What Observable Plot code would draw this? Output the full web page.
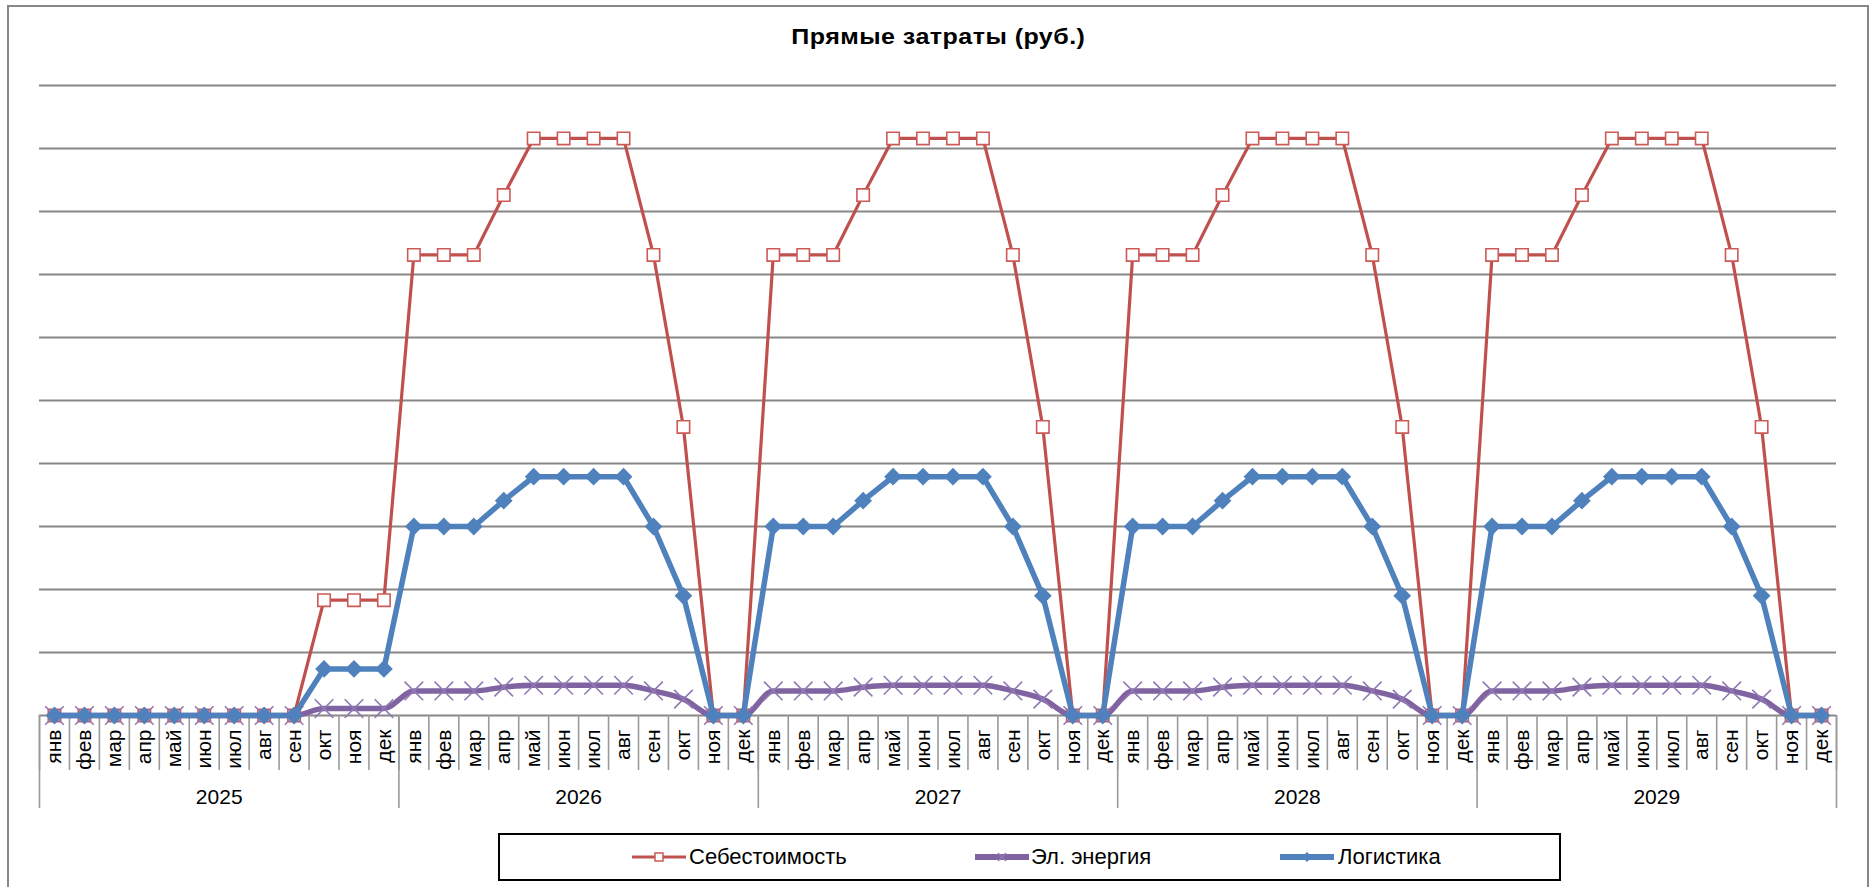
<!DOCTYPE html>
<html>
<head>
<meta charset="utf-8">
<script src="https://cdn.jsdelivr.net/npm/d3@7"></script>
<script src="https://cdn.jsdelivr.net/npm/@observablehq/plot@0.6"></script>
<style>
html, body { margin: 0; padding: 0; background: #fff; }
#wrap { position: relative; width: 1876px; height: 887px; overflow: hidden; font-family: "Liberation Sans", Arial, sans-serif; color: #000; }
#frame { position: absolute; left: 7px; top: 5px; width: 1858px; height: 940px; border: 2px solid #878787; }
#title { position: absolute; left: 0; top: 26px; width: 1876px; text-align: center; font-weight: bold; font-size: 21.5px; line-height: 22px; white-space: nowrap; }
#title span { display: inline-block; transform-origin: 50% 50%; }
#chart { position: absolute; left: 0; top: 60px; }
#legend { position: absolute; left: 498px; top: 833px; width: 1063px; height: 48px; box-sizing: border-box; border: 2px solid #000; }
.lg-sym { position: absolute; top: 847px; }
.lg-txt { position: absolute; top: 846px; font-size: 22px; line-height: 22px; white-space: nowrap; }
</style>
</head>
<body>
<div id="wrap">
  <div id="frame"></div>
  <div id="title"><span id="titleText"></span></div>
  <div id="chart"></div>
  <div id="legend"></div>
</div>
<script>
// ---- data ----
const months = ["янв","фев","мар","апр","май","июн","июл","авг","сен","окт","ноя","дек"];
const years = [2025, 2026, 2027, 2028, 2029];
const titleText = "Прямые затраты (руб.)";
const seriesNames = ["Себестоимость", "Эл. энергия", "Логистика"];
const seriesColors = ["#C0504D", "#8064A2", "#4F81BD"];
const gridValues = [0, 1, 2, 3, 4, 5, 6, 7, 8, 9, 10];

const sebestoimost = [
  0, 0, 0, 0, 0, 0, 0, 0, 0, 1.83, 1.83, 1.83,
  7.31, 7.31, 7.31, 8.26, 9.16, 9.16, 9.16, 9.16, 7.31, 4.58, 0, 0,
  7.31, 7.31, 7.31, 8.26, 9.16, 9.16, 9.16, 9.16, 7.31, 4.58, 0, 0,
  7.31, 7.31, 7.31, 8.26, 9.16, 9.16, 9.16, 9.16, 7.31, 4.58, 0, 0,
  7.31, 7.31, 7.31, 8.26, 9.16, 9.16, 9.16, 9.16, 7.31, 4.58, 0, 0
];
const elEnergiya = [
  0, 0, 0, 0, 0, 0, 0, 0, 0, 0.11, 0.11, 0.11,
  0.39, 0.39, 0.39, 0.45, 0.48, 0.48, 0.48, 0.48, 0.39, 0.26, 0, 0,
  0.39, 0.39, 0.39, 0.45, 0.48, 0.48, 0.48, 0.48, 0.39, 0.26, 0, 0,
  0.39, 0.39, 0.39, 0.45, 0.48, 0.48, 0.48, 0.48, 0.39, 0.26, 0, 0,
  0.39, 0.39, 0.39, 0.45, 0.48, 0.48, 0.48, 0.48, 0.39, 0.26, 0, 0
];
const logistika = [
  0, 0, 0, 0, 0, 0, 0, 0, 0, 0.74, 0.74, 0.74,
  3.0, 3.0, 3.0, 3.41, 3.79, 3.79, 3.79, 3.79, 3.0, 1.9, 0, 0,
  3.0, 3.0, 3.0, 3.41, 3.79, 3.79, 3.79, 3.79, 3.0, 1.9, 0, 0,
  3.0, 3.0, 3.0, 3.41, 3.79, 3.79, 3.79, 3.79, 3.0, 1.9, 0, 0,
  3.0, 3.0, 3.0, 3.41, 3.79, 3.79, 3.79, 3.79, 3.0, 1.9, 0, 0
];

// ---- derived tables ----
const nM = months.length;
const rows = years.flatMap((yr, yi) => months.map((m, mi) => ({ i: yi * nM + mi, month: m, year: yr })));
const toPts = (arr) => arr.map((v, i) => ({ i, v }));
const sRed = toPts(sebestoimost), sPur = toPts(elEnergiya), sBlu = toPts(logistika);
const boundaries = d3.range(rows.length + 1);
const yearBoundaries = boundaries.filter(b => b % nM === 0);
const yearRows = years.map((yr, yi) => ({ year: String(yr), c: yi * nM + (nM - 1) / 2 }));

// layout
const W = 1876, H = 765, mT = 25, mB = 110, mL = 39, mR = 40;
const unitPx = (H - mT - mB) / 10;
const monthTick = -55 / unitPx;   // separator length below the axis
const yearTick = -93 / unitPx;

const font = '"Liberation Sans", Arial, sans-serif';
const plot = Plot.plot({
  width: W, height: H,
  marginTop: mT, marginBottom: mB, marginLeft: mL, marginRight: mR,
  x: { type: "linear", domain: [-0.5, rows.length - 0.5], axis: null },
  y: { type: "linear", domain: [0, 10], axis: null },
  style: { fontFamily: font, background: "transparent", color: "#000", overflow: "visible" },
  marks: [
    Plot.ruleY(gridValues, { stroke: "#878787", strokeWidth: 2 }),
    Plot.ruleX(boundaries, { x: d => d - 0.5, y1: 0, y2: monthTick, stroke: "#9a9a9a", strokeWidth: 1.6 }),
    Plot.ruleX(yearBoundaries, { x: d => d - 0.5, y1: 0, y2: yearTick, stroke: "#9a9a9a", strokeWidth: 1.6 }),
    Plot.text(rows, { x: "i", y: 0, text: "month", rotate: -90, textAnchor: "end", lineAnchor: "middle", dy: 14, fontSize: 21, fill: "#000" }),
    Plot.text(yearRows, { x: "c", y: 0, text: "year", dy: 82, fontSize: 21, fill: "#000", lineAnchor: "middle" }),
    // Себестоимость
    Plot.line(sRed, { x: "i", y: "v", stroke: seriesColors[0], strokeWidth: 3.2 }),
    Plot.dot(sRed, { x: "i", y: "v", symbol: "square", r: 7, fill: "#fff", stroke: "#cc5a57", strokeWidth: 1.6 }),
    // Эл. энергия
    Plot.line(sPur, { x: "i", y: "v", stroke: seriesColors[1], strokeWidth: 5.5, curve: "monotone-x" }),
    Plot.dot(sPur, { x: "i", y: "v", symbol: "times", r: 8.5, fill: "none", stroke: "#9179b4", strokeWidth: 1.6 }),
    // Логистика
    Plot.line(sBlu, { x: "i", y: "v", stroke: seriesColors[2], strokeWidth: 5.5 }),
    Plot.dot(sBlu, { x: "i", y: "v", symbol: "diamond2", r: 8, fill: seriesColors[2], stroke: "none" })
  ]
});
document.getElementById("chart").appendChild(plot);

// ---- title (stretched horizontally to the reference width) ----
const tt = document.getElementById("titleText");
tt.textContent = titleText;
const tw = tt.getBoundingClientRect().width;
const targetTitleW = 294;
tt.style.letterSpacing = "0.4px";
const tw2 = tt.getBoundingClientRect().width;
tt.style.transform = "scaleX(" + (targetTitleW / tw2).toFixed(3) + ")";

// ---- legend ----
const wrap = document.getElementById("wrap");
const legendItems = [
  { name: seriesNames[0], color: seriesColors[0], x0: 630, tx: 689, sw: 3.2, sym: "square" },
  { name: seriesNames[1], color: seriesColors[1], x0: 973, tx: 1031, sw: 6, sym: "times" },
  { name: seriesNames[2], color: seriesColors[2], x0: 1278, tx: 1338, sw: 6, sym: "diamond" }
];
const ns = "http://www.w3.org/2000/svg";
legendItems.forEach(it => {
  const svg = document.createElementNS(ns, "svg");
  svg.setAttribute("width", 58); svg.setAttribute("height", 20);
  svg.setAttribute("class", "lg-sym");
  svg.style.left = it.x0 + "px";
  const line = document.createElementNS(ns, "line");
  line.setAttribute("x1", 2); line.setAttribute("x2", 56); line.setAttribute("y1", 10); line.setAttribute("y2", 10);
  line.setAttribute("stroke", it.color); line.setAttribute("stroke-width", it.sw);
  svg.appendChild(line);
  if (it.sym === "square") {
    const r = document.createElementNS(ns, "rect");
    r.setAttribute("x", 25); r.setAttribute("y", 6); r.setAttribute("width", 8); r.setAttribute("height", 8);
    r.setAttribute("fill", "#fff"); r.setAttribute("stroke", "#cc5a57"); r.setAttribute("stroke-width", 1.5);
    svg.appendChild(r);
  } else if (it.sym === "times") {
    const p = document.createElementNS(ns, "path");
    p.setAttribute("d", "M25,6L33,14M33,6L25,14");
    p.setAttribute("stroke", "#9179b4"); p.setAttribute("stroke-width", 1.3);
    svg.appendChild(p);
  } else {
    const p = document.createElementNS(ns, "path");
    p.setAttribute("d", "M29,5L34,10L29,15L24,10Z");
    p.setAttribute("fill", it.color);
    svg.appendChild(p);
  }
  wrap.appendChild(svg);
  const t = document.createElement("div");
  t.className = "lg-txt";
  t.style.left = it.tx + "px";
  t.textContent = it.name;
  wrap.appendChild(t);
});
</script>
</body>
</html>
